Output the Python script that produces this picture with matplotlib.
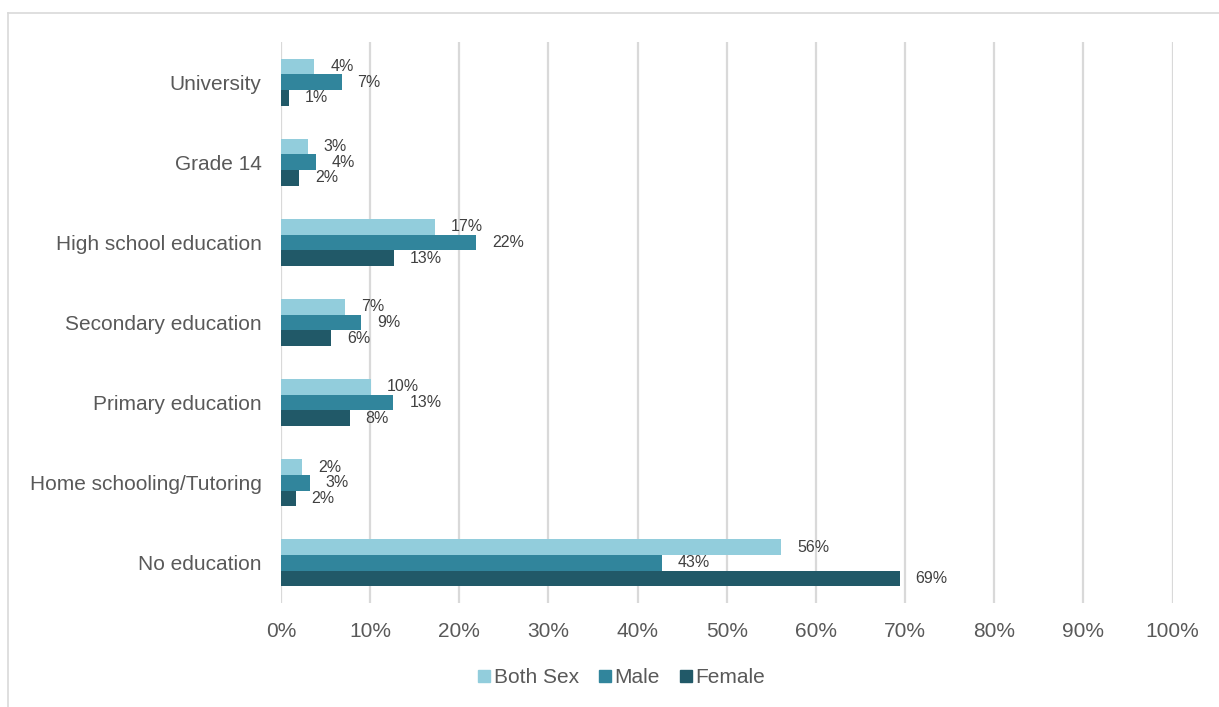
import matplotlib

matplotlib.use("Agg")
import matplotlib.pyplot as plt
import numpy as np
from matplotlib.lines import Line2D
from matplotlib.ticker import FuncFormatter, MultipleLocator

plt.rcParams["font.family"] = ["Liberation Sans", "DejaVu Sans"]

# 受教育程度分布（%），从下到上依次绘制
categories = [
    "No education",
    "Home schooling/Tutoring",
    "Primary education",
    "Secondary education",
    "High school education",
    "Grade 14",
    "University",
]
both_sex = [56.1, 2.4, 10.1, 7.2, 17.3, 3.0, 3.75]
male = [42.7, 3.2, 12.6, 9.0, 21.9, 3.93, 6.8]
female = [69.4, 1.65, 7.7, 5.6, 12.7, 2.02, 0.9]

series_names = ["Both Sex", "Male", "Female"]
series_colors = ["#92CDDC", "#31859C", "#215968"]

TEXT = "#595959"
GRID = "#D9D9D9"

fig = plt.figure(figsize=(12.19, 7.07), dpi=100)
ax = fig.add_axes([0.2305, 0.1471, 0.7314, 0.7935])

y = np.arange(len(categories))
bar_h = 0.196
offsets = [bar_h, 0.0, -bar_h]
for values, name, color, off in zip([both_sex, male, female], series_names, series_colors, offsets):
    bars = ax.barh(y + off, values, height=bar_h, color=color, label=name, zorder=3)
    for rect, v in zip(bars, values):
        ax.annotate(
            f"{v:.0f}%",
            xy=(v, rect.get_y() + rect.get_height() / 2),
            xytext=(11.5, 0),
            textcoords="offset points",
            ha="left",
            va="center",
            fontsize=11.5,
            color="#404040",
            zorder=4,
        )

ax.set_xlim(0, 100)
ax.set_ylim(-0.5, len(categories) - 0.5)
ax.xaxis.set_major_locator(MultipleLocator(10))
ax.xaxis.set_major_formatter(FuncFormatter(lambda v, _: f"{v:.0f}%"))
ax.set_yticks(y)
ax.set_yticklabels(categories)
ax.tick_params(axis="both", length=0, labelsize=15, colors=TEXT)
ax.tick_params(axis="x", pad=14)
ax.tick_params(axis="y", pad=14)
ax.grid(axis="x", color=GRID, linewidth=1.6, zorder=0)
for side in ax.spines.values():
    side.set_visible(False)

handles = [
    Line2D([], [], marker="s", linestyle="none", markersize=8, color=c, label=n)
    for c, n in zip(series_colors, series_names)
]
fig.legend(
    handles=handles,
    loc="center",
    bbox_to_anchor=(0.509, 0.042),
    ncol=3,
    frameon=False,
    fontsize=15,
    labelcolor=TEXT,
    handletextpad=0.05,
    columnspacing=0.85,
    handlelength=0.8,
)

# 外框只露出上边和左边
fig.add_artist(Line2D([7.5 / 1219, 1.0], [1 - 13 / 707] * 2, color=GRID, linewidth=1.2))
fig.add_artist(Line2D([7.5 / 1219] * 2, [0.0, 1 - 13 / 707], color=GRID, linewidth=1.2))

fig.savefig("out.png", dpi=100, facecolor="white")
